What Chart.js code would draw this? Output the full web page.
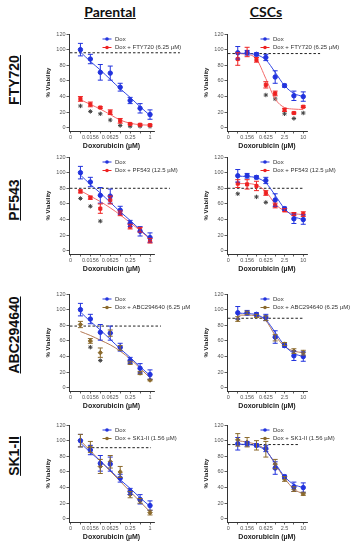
<!DOCTYPE html>
<html>
<head>
<meta charset="utf-8">
<script src="https://cdn.jsdelivr.net/npm/chart.js@4.4.0/dist/chart.umd.min.js"></script>
<style>
  body { margin: 0; background: #fff; width: 357px; height: 550px; position: relative; overflow: hidden; }
  canvas { position: absolute; }
  .col { position: absolute; top: 3px; font: bold 14px Lato, "Open Sans", sans-serif; text-decoration: underline; transform: translateX(-50%); color: #111; }
  .row { position: absolute; left: 14px; font: bold 14px "Liberation Sans", Arial, sans-serif; text-decoration: underline; transform: translate(-50%, -50%) rotate(-90deg); white-space: nowrap; color: #111; }
</style>
</head>
<body>
<div class="col" style="left:110px">Parental</div>
<div class="col" style="left:266px">CSCs</div>
<div class="row" style="top:80px">FTY720</div>
<div class="row" style="top:200px">PF543</div>
<div class="row" style="top:335px">ABC294640</div>
<div class="row" style="top:456px">SK1-II</div>

<canvas id="p0" width="152" height="124"></canvas>
<canvas id="c0" width="161" height="124"></canvas>
<canvas id="p1" width="152" height="124"></canvas>
<canvas id="c1" width="161" height="124"></canvas>
<canvas id="p2" width="152" height="124"></canvas>
<canvas id="c2" width="161" height="124"></canvas>
<canvas id="p3" width="152" height="124"></canvas>
<canvas id="c3" width="161" height="124"></canvas>

<script>
// Doses (µM), plotted at equal log2 steps
const parentalDoses = ['0.0078', '0.0156', '0.0313', '0.0625', '0.125', '0.25', '0.5', '1'];
const cscDoses = ['0.078', '0.156', '0.3125', '0.625', '1.25', '2.5', '5', '10'];
const tickIndex = [-1, 1, 3, 5, 7];
const parentalTickLabels = ['0', '0.0156', '0.0625', '0.25', '1'];
const cscTickLabels = ['0', '0.156', '0.625', '2.5', '10'];

// Dox alone (shared control)
const doxParental = [100, 88, 71, 70, 52, 35, 25, 17];
const doxParentalErr = [8, 6, 10, 9, 5, 4, 6, 6];
const doxParentalFit = [97, 85, 74, 62, 50, 39, 27, 16];
const doxCsc = [96, 96, 94, 90, 65, 54, 41, 40];
const doxCscErr = [8, 3, 2, 4, 8, 2, 6, 6];
const doxCscFit = [95.5, 95, 93.5, 87, 71, 54, 44, 40];

// FTY720
const ftyParental = [37, 30, 26, 20, 9, 5, 4, 3.5];
const ftyParentalErr = [3, 3, 1, 3, 3, 1, 1, 1];
const ftyParentalFit = [36, 30, 24, 17, 10, 6, 4, 3.5];
const ftyParentalStars = [28, 21, 18, 10, 3, 2, 2, 2];
const ftyCsc = [88, 97, 87, 55, 44, 23, 19, 27];
const ftyCscErr = [8, 6, 3, 4, 3, 2, 1, 1];
const ftyCscFit = [95, 94, 88, 63, 37, 26, 24, 23.5];
const ftyCscStars = [null, null, null, 42, 37, 18, 12, 19];

// PF543
const pfParental = [76, 68, 54, 65, 48, 31, 27, 13];
const pfParentalErr = [2, 2, 6, 5, 3, 3, 3, 3];
const pfParentalFit = [77, 70, 63, 55, 46, 36, 26, 15];
const pfParentalStars = [67, 57, 38, null, null, null, null, null];
const pfCsc = [86, 85, 83, 74, 58, 52, 47, 47];
const pfCscErr = [5, 6, 6, 3, 3, 2, 2, 3];
const pfCscFit = [86, 86, 84, 76, 60, 51, 47.5, 46.5];
const pfCscStars = [73, null, 69, 62, null, null, null, null];

// ABC294640
const abcParental = [81, 60, 45, 70, 51, 32, 19, 10];
const abcParentalErr = [4, 3, 6, 4, 3, 2, 2, 1];
const abcParentalFit = [72, 67, 61, 55, 47, 37, 25, 13];
const abcParentalStars = [null, 52, 35, null, null, null, null, null];
const abcCsc = [88, 96, 92, 89, 64, 56, 47, 45];
const abcCscErr = [3, 2, 2, 3, 4, 2, 3, 3];
const abcCscFit = [93, 93, 92, 86, 67, 53, 47, 45];

// SK1-II
const skParental = [100, 92, 67, 73, 60, 31, 23, 8];
const skParentalErr = [8, 7, 9, 8, 7, 4, 3, 3];
const skParentalFit = [100, 87, 74, 61, 48, 35, 22, 9];
const skCsc = [101, 98, 94, 89, 70, 51, 38, 32];
const skCscErr = [8, 6, 6, 10, 6, 3, 3, 2];
const skCscFit = [100, 98, 95, 88, 70, 52, 38, 32];

// dashed reference levels
const dashParental = [96, 80, 79, 91];
const dashCsc = [95, 80, 89, 95];

const BLUE = '#2233dd', BLUE_FIT = '#3348e6';
const RED = '#ee2222', RED_FIT = '#f46a6a';
const BROWN = '#8b6a2d', BROWN_FIT = '#b57a55';

const rowTop = [34, 157, 294, 425];

const pts = arr => arr.map((v, i) => ({ x: i, y: v })).filter(p => p.y !== null);

// vertical error bars from the errors array of a dataset
const errorBars = {
    id: 'errorBars',
    afterDatasetsDraw(chart) {
        const ctx = chart.ctx, ys = chart.scales.y;
        chart.data.datasets.forEach((ds, i) => {
            if (!ds.errors) return;
            const meta = chart.getDatasetMeta(i);
            ctx.save();
            ctx.strokeStyle = ds.borderColor;
            ctx.lineWidth = 1;
            meta.data.forEach((pt, j) => {
                const e = ds.errors[j];
                if (!e) return;
                const v = ds.data[j].y;
                const t = ys.getPixelForValue(v + e), b = ys.getPixelForValue(v - e);
                ctx.beginPath();
                ctx.moveTo(pt.x, t); ctx.lineTo(pt.x, b);
                ctx.moveTo(pt.x - 2.5, t); ctx.lineTo(pt.x + 2.5, t);
                ctx.moveTo(pt.x - 2.5, b); ctx.lineTo(pt.x + 2.5, b);
                ctx.stroke();
            });
            ctx.restore();
        });
    }
};

// small legend inside the plot, top right
function legendPlugin(items) {
    return {
        id: 'miniLegend',
        afterDraw(chart) {
            const { ctx, chartArea } = chart;
            ctx.save();
            ctx.font = '6px "Liberation Sans", Arial, sans-serif';
            ctx.textBaseline = 'middle';
            items.forEach((it, k) => {
                const x = chartArea.left + 38, y = chartArea.top + 5 + k * 8.5;
                ctx.strokeStyle = it.color; ctx.fillStyle = it.color; ctx.lineWidth = 1;
                ctx.beginPath(); ctx.moveTo(x - 4.5, y); ctx.lineTo(x + 4.5, y); ctx.stroke();
                ctx.beginPath(); ctx.arc(x, y, 1.8, 0, Math.PI * 2); ctx.fill();
                ctx.fillStyle = '#333';
                ctx.fillText(it.text, x + 8, y);
            });
            ctx.restore();
        }
    };
}

function makePanel(p) {
    const canvas = document.getElementById(p.id);
    const isCsc = p.col === 1;
    canvas.style.left = (isCsc ? 196 : 38) + 'px';
    canvas.style.top = (rowTop[p.row] - 5) + 'px';
    const labels = isCsc ? cscTickLabels : parentalTickLabels;
    const comboPt = p.color === RED ? 'rect' : 'rectRot';

    const datasets = [
        { data: pts(p.dox), errors: p.doxErr, borderColor: BLUE, backgroundColor: BLUE, pointStyle: 'circle', pointRadius: 2.2, showLine: false },
        { data: pts(p.combo), errors: p.comboErr, borderColor: p.color, backgroundColor: p.color, pointStyle: comboPt, pointRadius: 2.2, showLine: false },
        { data: pts(p.doxFit), borderColor: BLUE_FIT, borderWidth: 1, pointRadius: 0, showLine: true, cubicInterpolationMode: 'monotone' },
        { data: pts(p.comboFit), borderColor: p.fitColor, borderWidth: 1, pointRadius: 0, showLine: true, cubicInterpolationMode: 'monotone' }
    ];
    if (p.stars) {
        datasets.push({ data: pts(p.stars), pointStyle: 'star', pointRadius: 2.2, borderColor: '#444', borderWidth: 1, backgroundColor: '#444', showLine: false });
    }
    datasets.push({ data: [{ x: p.dashFrom, y: p.dashLevel }, { x: p.dashTo, y: p.dashLevel }], borderColor: '#222', borderWidth: 1, borderDash: [2.5, 2], pointRadius: 0, showLine: true, clip: false });

    new Chart(canvas.getContext('2d'), {
        type: 'scatter',
        data: { datasets },
        options: {
            responsive: false,
            animation: false,
            devicePixelRatio: 1,
            layout: { padding: { top: 5, right: isCsc ? 50 : 36, left: 0, bottom: 0 } },
            plugins: { legend: { display: false }, tooltip: { enabled: false } },
            scales: {
                x: {
                    type: 'linear', min: -1.15, max: 7.4,
                    afterBuildTicks: s => { s.ticks = [-1, 0, 1, 2, 3, 4, 5, 6, 7].map(v => ({ value: v })); },
                    afterFit: s => { s.height = 22; },
                    grid: { drawOnChartArea: false, drawTicks: true, tickLength: 2.5, color: '#333', lineWidth: 0.8 },
                    border: { display: true, color: '#333', width: 1 },
                    ticks: {
                        autoSkip: false, maxRotation: 0, padding: 1, color: '#555',
                        font: { family: '"Liberation Sans", Arial, sans-serif', size: 5.5 },
                        callback: v => { const k = tickIndex.indexOf(v); return k >= 0 ? labels[k] : ''; }
                    },
                    title: { display: true, text: 'Doxorubicin (µM)', color: '#222', padding: { top: 0, bottom: 3 },
                        font: { family: '"Liberation Sans", Arial, sans-serif', size: 7, weight: 'bold' } }
                },
                y: {
                    min: -4, max: 120,
                    afterBuildTicks: s => { s.ticks = [0, 20, 40, 60, 80, 100, 120].map(v => ({ value: v })); },
                    afterFit: s => { s.width = 31; },
                    grid: { drawOnChartArea: false, drawTicks: true, tickLength: 2.5, color: '#333', lineWidth: 0.8 },
                    border: { display: true, color: '#333', width: 1 },
                    ticks: { padding: 1, color: '#555', font: { family: '"Liberation Sans", Arial, sans-serif', size: 5.5 } },
                    title: { display: true, text: '% Viability', color: '#222', padding: { top: 7, bottom: 0 },
                        font: { family: '"Liberation Sans", Arial, sans-serif', size: 6, weight: 'bold' } }
                }
            }
        },
        plugins: [errorBars, legendPlugin([{ text: 'Dox', color: BLUE }, { text: p.label, color: p.color }])]
    });
}

const panels = [
    { id: 'p0', col: 0, row: 0, dox: doxParental, doxErr: doxParentalErr, doxFit: doxParentalFit, combo: ftyParental, comboErr: ftyParentalErr, comboFit: ftyParentalFit, stars: ftyParentalStars, dashLevel: dashParental[0], dashFrom: -1.05, dashTo: 10, color: RED, fitColor: RED_FIT, label: 'Dox + FTY720 (6.25 µM)' },
    { id: 'c0', col: 1, row: 0, dox: doxCsc, doxErr: doxCscErr, doxFit: doxCscFit, combo: ftyCsc, comboErr: ftyCscErr, comboFit: ftyCscFit, stars: ftyCscStars, dashLevel: dashCsc[0], dashFrom: -1.05, dashTo: 8.8, color: RED, fitColor: RED_FIT, label: 'Dox + FTY720 (6.25 µM)' },
    { id: 'p1', col: 0, row: 1, dox: doxParental, doxErr: doxParentalErr, doxFit: doxParentalFit, combo: pfParental, comboErr: pfParentalErr, comboFit: pfParentalFit, stars: pfParentalStars, dashLevel: dashParental[1], dashFrom: -1.05, dashTo: 9, color: RED, fitColor: RED_FIT, label: 'Dox + PF543 (12.5 µM)' },
    { id: 'c1', col: 1, row: 1, dox: doxCsc, doxErr: doxCscErr, doxFit: doxCscFit, combo: pfCsc, comboErr: pfCscErr, comboFit: pfCscFit, stars: pfCscStars, dashLevel: dashCsc[1], dashFrom: -1.05, dashTo: 7, color: RED, fitColor: RED_FIT, label: 'Dox + PF543 (12.5 µM)' },
    { id: 'p2', col: 0, row: 2, dox: doxParental, doxErr: doxParentalErr, doxFit: doxParentalFit, combo: abcParental, comboErr: abcParentalErr, comboFit: abcParentalFit, stars: abcParentalStars, dashLevel: dashParental[2], dashFrom: -1.05, dashTo: 8.1, color: BROWN, fitColor: BROWN_FIT, label: 'Dox + ABC294640 (6.25 µM)' },
    { id: 'c2', col: 1, row: 2, dox: doxCsc, doxErr: doxCscErr, doxFit: doxCscFit, combo: abcCsc, comboErr: abcCscErr, comboFit: abcCscFit, stars: null, dashLevel: dashCsc[2], dashFrom: -1.05, dashTo: 7.1, color: BROWN, fitColor: BROWN_FIT, label: 'Dox + ABC294640 (6.25 µM)' },
    { id: 'p3', col: 0, row: 3, dox: doxParental, doxErr: doxParentalErr, doxFit: doxParentalFit, combo: skParental, comboErr: skParentalErr, comboFit: skParentalFit, stars: null, dashLevel: dashParental[3], dashFrom: 0.7, dashTo: 7.1, color: BROWN, fitColor: BROWN_FIT, label: 'Dox + SK1-II (1.56 µM)' },
    { id: 'c3', col: 1, row: 3, dox: doxCsc, doxErr: doxCscErr, doxFit: doxCscFit, combo: skCsc, comboErr: skCscErr, comboFit: skCscFit, stars: null, dashLevel: dashCsc[3], dashFrom: -1.05, dashTo: 6.6, color: BROWN, fitColor: BROWN_FIT, label: 'Dox + SK1-II (1.56 µM)' }
];

panels.forEach(makePanel);
</script>
</body>
</html>
